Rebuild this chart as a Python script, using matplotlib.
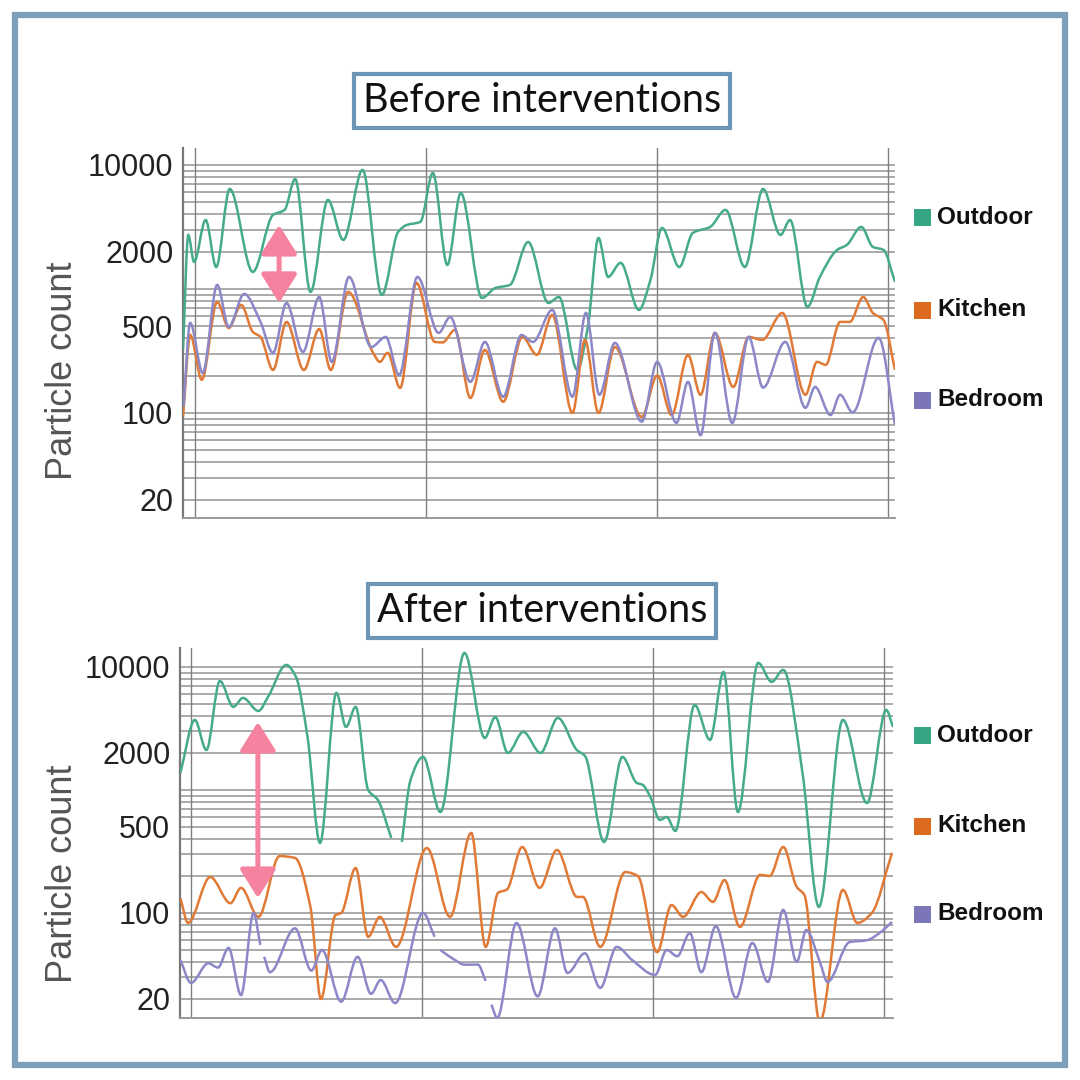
import numpy as np
import matplotlib.pyplot as plt
from matplotlib.path import Path
from matplotlib.patches import PathPatch, Rectangle
from matplotlib.ticker import FixedLocator, NullLocator

# hours from the first midnight, particle counts (nan = gap in the record)
before_out_h = [-1.25, -0.7, -0.1, 1.1, 2.2, 3.6, 6.0, 8.1, 9.3, 10.4, 12.0, 13.8, 15.4, 17.4, 19.4,
                21.1, 22.0, 23.4, 24.7, 26.2, 27.6, 29.8, 31.2, 32.7, 34.6, 36.7, 37.8, 39.7, 40.8,
                41.9, 42.9, 44.2, 46.1, 47.3, 48.5, 50.3, 51.7, 53.5, 55.1, 57.1, 59.0, 60.8, 61.8,
                63.6, 64.9, 66.7, 67.7, 69.2, 70.4, 71.5, 72.7]
before_out = [320, 2725, 1652, 3597, 1503, 6400, 1371, 3954, 4339, 7715, 946, 5225, 2483, 9120, 895,
              2885, 3282, 3470, 8610, 1562, 5940, 846, 1018, 1077, 2393, 770, 861, 222, 494,
              2577, 1250, 1622, 677, 1183, 3105, 1503, 2832, 3162, 4339, 1503, 6400, 2725, 3597,
              716, 1250, 2066, 2265, 3162, 2183, 2066, 1138]

before_kit_h = [-1.25, -0.5, 0.7, 2.3, 3.5, 4.8, 6.0, 6.8, 8.1, 9.5, 11.3, 12.9, 14.1, 15.9, 18.5,
                19.2, 20.0, 21.3, 23.0, 24.9, 25.7, 27.0, 28.6, 30.1, 32.0, 34.0, 35.5, 37.1, 39.2,
                40.5, 41.9, 43.6, 46.4, 48.0, 49.5, 51.2, 52.5, 54.0, 55.9, 57.5, 58.9, 61.0, 63.4,
                64.6, 65.5, 67.0, 68.0, 69.4, 70.4, 71.5, 72.7]
before_kit = [93, 425, 185, 785, 484, 743, 450, 410, 222, 542, 222, 475, 222, 946, 305,
              258, 305, 159, 1117, 374, 370, 467, 132, 322, 123, 410, 294, 617, 100,
              388, 100, 340, 93, 200, 96, 294, 140, 442, 162, 410, 388, 640, 140,
              258, 244, 542, 542, 861, 640, 562, 222]

before_bed_h = [-1.2, -0.5, 0.8, 2.3, 3.5, 5.1, 6.8, 8.1, 9.5, 11.2, 12.9, 14.2, 16.0, 18.3, 19.8,
                21.2, 23.1, 25.3, 26.5, 28.6, 30.1, 32.0, 33.9, 35.1, 37.1, 39.2, 40.6, 42.0, 43.6,
                46.4, 48.0, 50.0, 51.2, 52.5, 54.0, 55.8, 57.5, 59.0, 61.3, 63.4, 64.4, 66.0, 67.0,
                68.3, 71.0, 72.7]
before_bed = [112, 532, 210, 1077, 494, 912, 542, 305, 770, 310, 861, 258, 1250, 340, 410,
              202, 1250, 442, 594, 178, 374, 135, 425, 374, 677, 135, 640, 140, 367,
              85, 258, 83, 178, 66, 442, 83, 410, 160, 374, 110, 162, 96, 140,
              101, 403, 80]

after_out_h = [-1.1, 0.4, 1.6, 3.0, 4.4, 5.4, 7.0, 8.0, 9.9, 10.9, 12.1, 13.4, 15.1, 16.1, 17.1,
               18.4, 19.4, 20.8, 21.3, 21.9, 22.8, 24.1, 25.9, 28.4, 30.5, 31.6, 32.9, 34.5, 36.3,
               38.1, 40.1, 40.9, 42.9, 44.8, 46.3, 46.9, 47.7, 48.7, 49.4, 50.3, 52.3, 53.9, 55.3,
               56.8, 58.9, 60.3, 61.5, 63.5, 65.2, 67.7, 70.2, 72.2, 72.9]
after_out = [1375, 3707, 2113, 7690, 4731, 5597, 4385, 5700, 10380, 8300, 2698, 371, 6150, 3250, 4731,
             1000, 830, 407, np.nan, 378, 1205, 1854, 662, 13000, 2649, 3918, 2000, 2965, 2000,
             3848, 2100, 1900, 378, 1854, 1140, 1100, 877, 570, 603, 464, 4910, 2553, 9100,
             662, 10780, 7560, 9460, 1375, 112, 3707, 783, 4467, 3250]

after_kit_h = [-1.1, -0.3, 2.0, 4.1, 5.2, 7.0, 9.2, 10.8, 12.4, 13.5, 15.0, 15.6, 17.1, 18.4, 19.6,
               21.3, 24.5, 26.9, 29.1, 30.6, 31.9, 32.8, 34.4, 36.2, 38.0, 40.1, 40.7, 42.5, 45.1,
               46.4, 48.4, 49.9, 51.1, 53.0, 54.2, 55.4, 57.0, 59.1, 60.1, 61.5, 62.9, 63.7, 65.3,
               67.7, 69.2, 70.7, 72.8]
after_kit = [132, 83, 196, 120, 160, 93, 290, 280, 112, 20, 96, 100, 232, 64, 93,
             53, 337, 93, 447, 53, 146, 155, 344, 160, 325, 135, 135, 53, 215,
             200, 48, 116, 93, 148, 123, 185, 77, 204, 200, 344, 163, 140, 13,
             154, 83, 100, 308]

after_bed_h = [-1.1, 0.0, 1.8, 2.8, 3.9, 5.2, 6.5, 7.2, 7.4, 7.6, 8.2, 10.8, 12.5, 13.6, 15.6, 17.3,
               18.7, 19.7, 21.2, 24.1, 25.3, 25.5, 25.9, 27.4, 28.4, 29.8, 30.6, 30.8, 31.2, 31.8,
               33.8, 36.0, 37.8, 39.1, 40.9, 42.5, 44.2, 45.8, 48.2, 49.4, 50.5, 51.8, 53.0, 54.5,
               56.6, 58.3, 59.9, 61.5, 62.9, 63.9, 65.3, 66.1, 68.4, 70.2, 71.5, 72.8]
after_bed = [41.5, 27, 39, 36, 52, 21.5, 100, 55, np.nan, 44, 33, 75, 34, 50, 19, 44,
             22, 28.5, 18.5, 100, 64, np.nan, 50, 41.5, 38, 38, 28, np.nan, 18, 14,
             83, 21, 75, 32.5, 47, 24.6, 53, 41.5, 31.3, 50, 44.5, 68.7, 33, 78,
             20.4, 57, 27.5, 106, 40, 72.7, 40, 27.5, 58, 60, 68.7, 84.5]

series_names = ['Outdoor', 'Kitchen', 'Bedroom']
line_colors = ['#45ab8c', '#e07a36', '#8c88c8']
key_colors = ['#35a583', '#dc6a1f', '#7b76b8']
ytick_vals = [20, 100, 500, 2000, 10000]
day_marks = [0, 24, 48, 72]


def smooth_path(xs, ys):
    # monotone cubic curve through the read points, built in log space
    x = np.asarray(xs, float)
    y = np.log10(np.asarray(ys, float))
    idx = np.where(~np.isnan(y))[0]
    runs = np.split(idx, np.where(np.diff(idx) != 1)[0] + 1)
    verts, codes = [], []
    for r in runs:
        if len(r) < 2:
            continue
        xr, yr = x[r], y[r]
        h = np.diff(xr)
        d = np.diff(yr) / h
        m = np.zeros_like(yr)
        m[0], m[-1] = d[0], d[-1]
        for i in range(1, len(yr) - 1):
            if d[i - 1] * d[i] > 0:
                w1 = 2 * h[i] + h[i - 1]
                w2 = h[i] + 2 * h[i - 1]
                m[i] = (w1 + w2) / (w1 / d[i - 1] + w2 / d[i])
        verts.append((xr[0], yr[0]))
        codes.append(Path.MOVETO)
        for i in range(len(h)):
            verts += [(xr[i] + h[i] / 3, yr[i] + m[i] * h[i] / 3),
                      (xr[i + 1] - h[i] / 3, yr[i + 1] - m[i + 1] * h[i] / 3),
                      (xr[i + 1], yr[i + 1])]
            codes += [Path.CURVE4] * 3
    v = np.array(verts)
    v[:, 1] = 10 ** v[:, 1]
    return Path(v, codes)


def setup_axes(ax, xlim, ylim):
    ax.set_yscale('log')
    ax.set_xlim(*xlim)
    ax.set_ylim(*ylim)
    for k in range(1, 5):
        for j in range(1, 10):
            v = j * 10 ** k
            if ylim[0] < v < ylim[1]:
                ax.axhline(v, color='#9c9c9c', lw=1.2, zorder=1)
    for d in day_marks:
        ax.axvline(d, color='#808080', lw=1.0, zorder=1)
    ax.yaxis.set_major_locator(FixedLocator(ytick_vals))
    ax.yaxis.set_minor_locator(NullLocator())
    ax.set_yticklabels([str(v) for v in ytick_vals])
    ax.tick_params(axis='y', length=0, pad=7, labelsize=22, labelcolor='#222222')
    ax.set_xticks([])
    for s in ['top', 'right']:
        ax.spines[s].set_visible(False)
    ax.spines['left'].set_color('#777777')
    ax.spines['left'].set_linewidth(1.6)
    ax.spines['bottom'].set_color('#999999')
    ax.spines['bottom'].set_linewidth(1.4)


def draw_series(ax, data):
    for (xs, ys), c in zip(data, line_colors):
        ax.add_patch(PathPatch(smooth_path(xs, ys), fc='none', ec=c, lw=1.8, zorder=3))


def draw_key(fig, ys_px):
    for name, c, yp in zip(series_names, key_colors, ys_px):
        fy = 1 - yp / 1080
        fig.add_artist(Rectangle((914 / 1080, fy - 8.5 / 1080), 17 / 1080, 17 / 1080,
                                 transform=fig.transFigure, fc=c, ec='none'))
        fig.text(937 / 1080, fy, name, ha='left', va='center', fontsize=17.5,
                 fontweight='bold', family='Liberation Sans', color='#111111')


plt.rcParams['font.family'] = ['Liberation Sans', 'DejaVu Sans']

fig = plt.figure(figsize=(10.8, 10.8), dpi=100)
fig.patch.set_facecolor('white')

ax1 = fig.add_axes([183 / 1080, 1 - 518 / 1080, 712 / 1080, 370 / 1080])
setup_axes(ax1, (-1.25, 72.7), (14.2, 13700))
draw_series(ax1, [(before_out_h, before_out), (before_kit_h, before_kit), (before_bed_h, before_bed)])

ax2 = fig.add_axes([180 / 1080, 1 - 1018 / 1080, 713 / 1080, 370 / 1080])
setup_axes(ax2, (-1.14, 72.9), (14.0, 14250))
draw_series(ax2, [(after_out_h, after_out), (after_kit_h, after_kit), (after_bed_h, after_bed)])

# pink arrows showing the outdoor / indoor gap
arrow_kw = dict(arrowstyle='<|-|>,head_length=0.8,head_width=0.5', color='#f5829f',
                lw=3.6, shrinkA=0, shrinkB=0, mutation_scale=22)
ax1.annotate('', xy=(8.73, 3282), xytext=(8.73, 770), arrowprops=arrow_kw, zorder=4)
ax2.annotate('', xy=(6.95, 3573), xytext=(6.95, 132), arrowprops=arrow_kw, zorder=4)

for yp, label in [(101, 'Before interventions'), (611, 'After interventions')]:
    fig.text(542 / 1080, 1 - yp / 1080, label, ha='center', va='center', fontsize=28.5,
             family='Lato', color='#111111',
             bbox=dict(boxstyle='square,pad=0.22', fc='white', ec='#6d95b5', lw=3))

for fy in [1 - 371 / 1080, 1 - 874 / 1080]:
    fig.text(62 / 1080, fy, 'Particle count', rotation=90, ha='center', va='center',
             fontsize=26, color='#555555')

draw_key(fig, [217, 310, 400])
draw_key(fig, [735, 826, 914])

fig.add_artist(Rectangle((15 / 1080, 15 / 1080), 1050 / 1080, 1050 / 1080,
                         transform=fig.transFigure, fill=False, ec='#7d9fba', lw=4.5))

fig.savefig('out.png', dpi=100)
